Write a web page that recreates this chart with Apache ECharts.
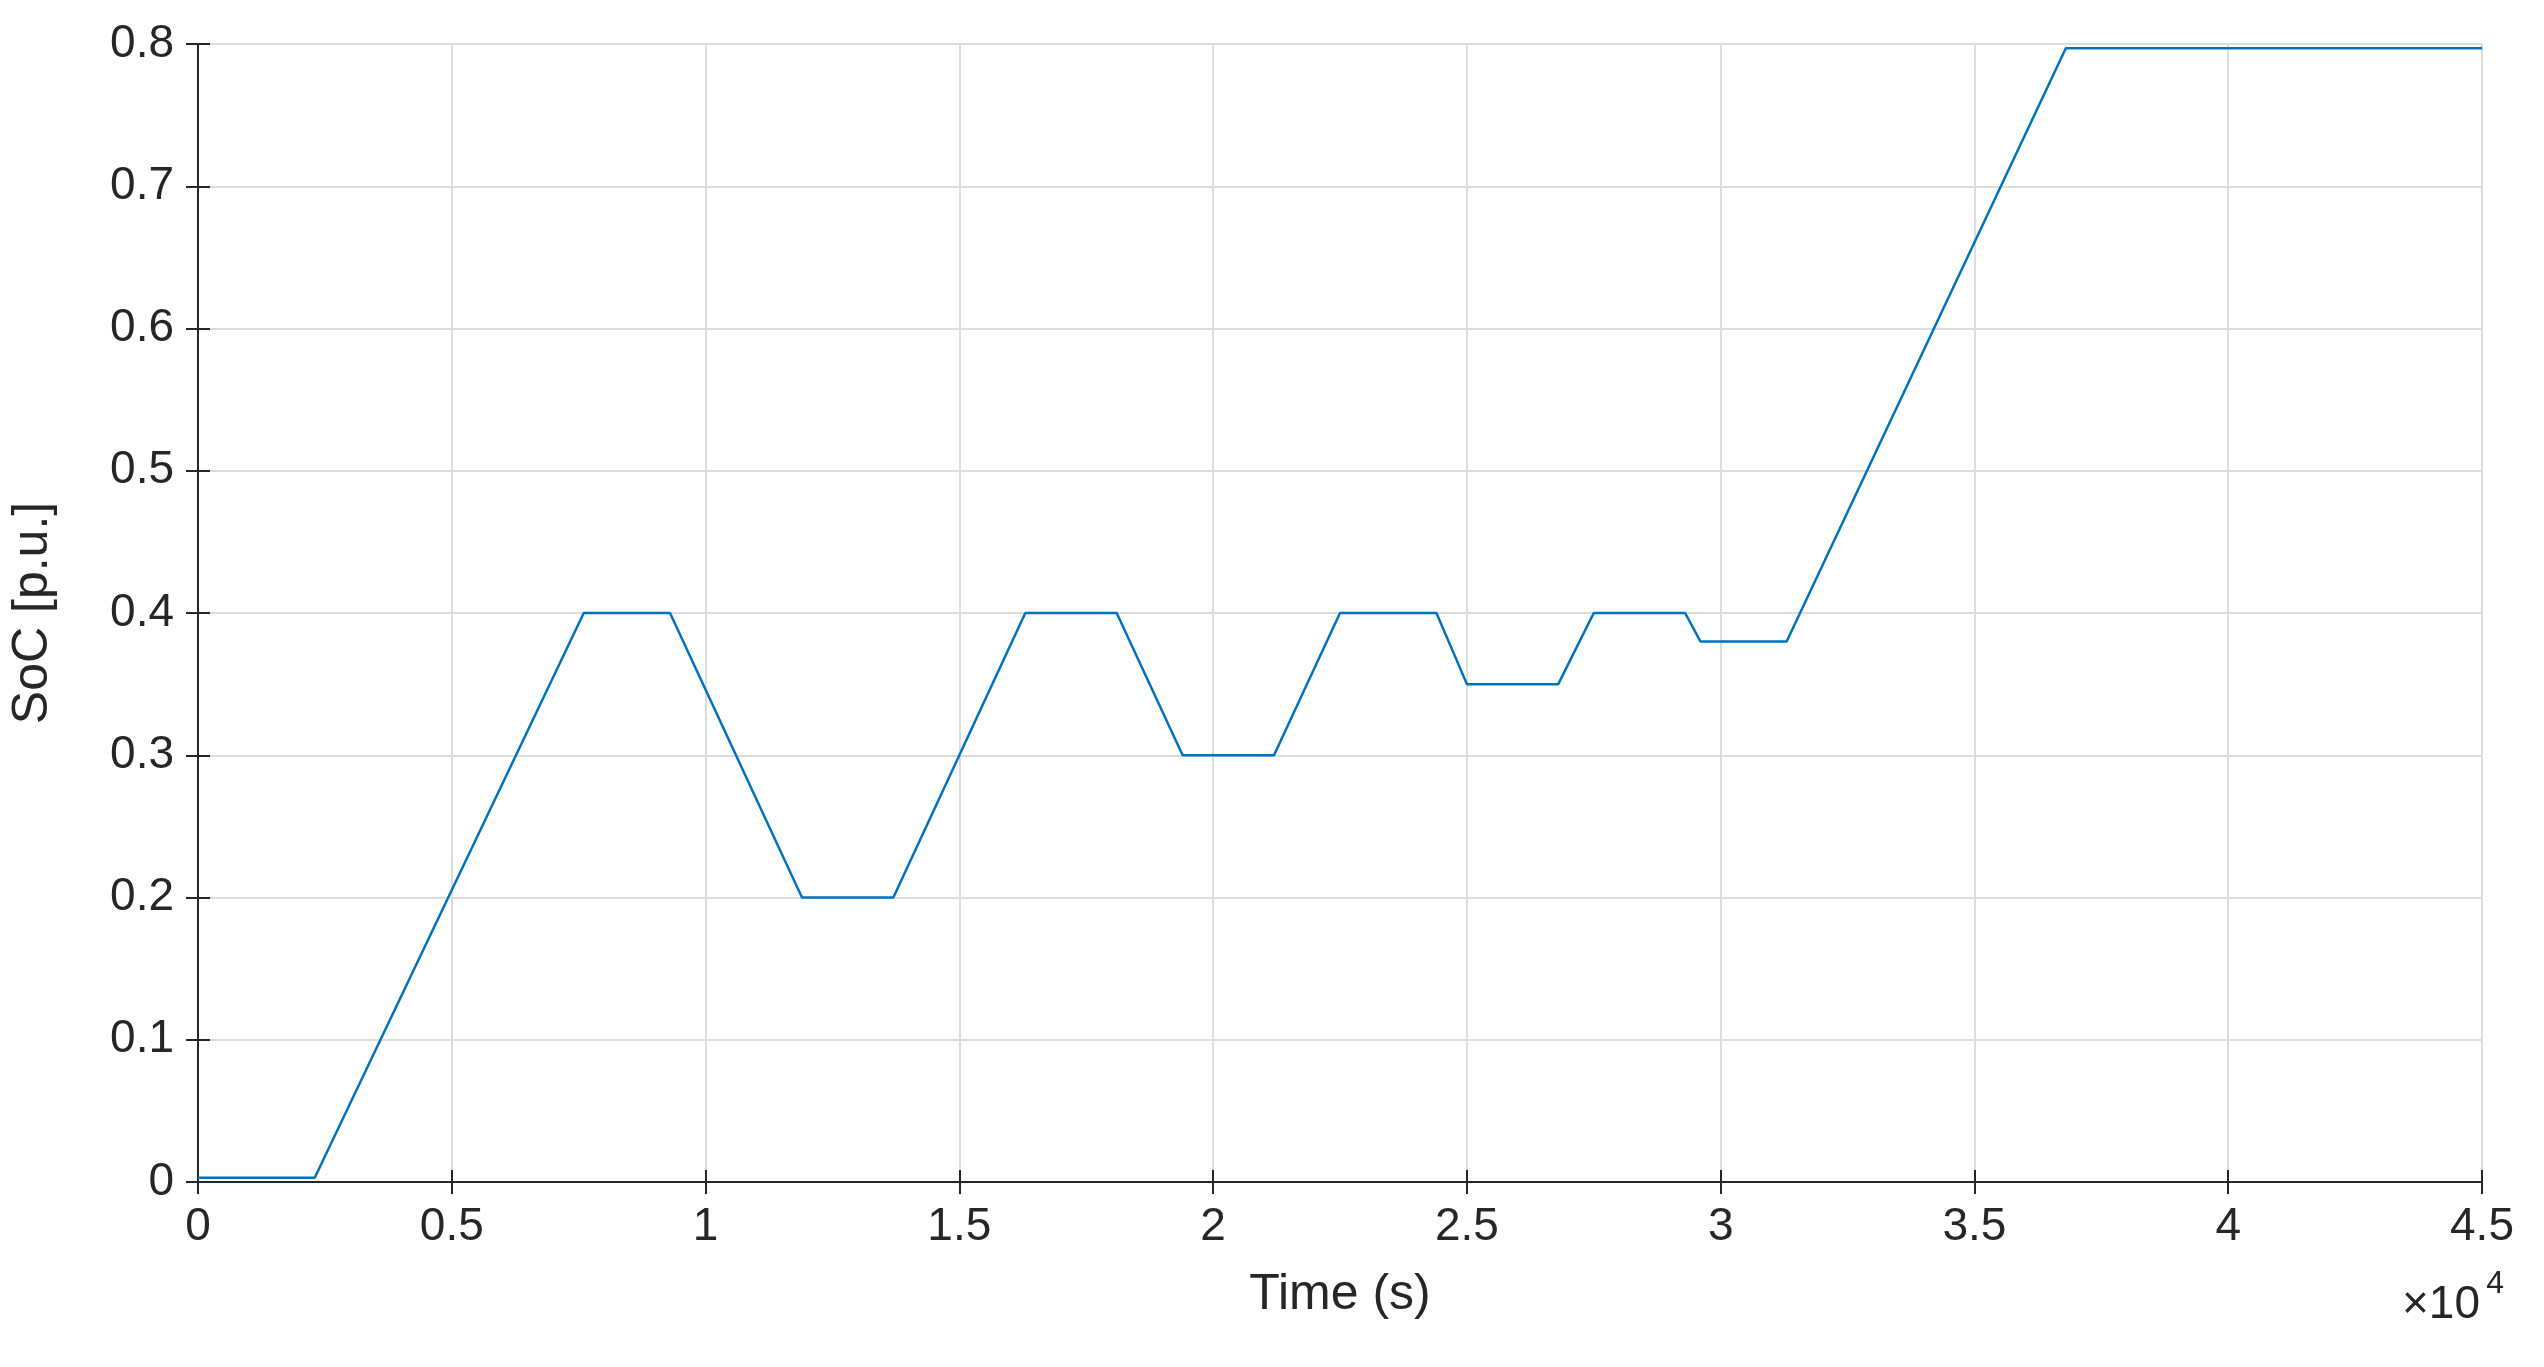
<!DOCTYPE html><html><head><meta charset="utf-8">
<script src="https://cdn.jsdelivr.net/npm/echarts@6/dist/echarts.min.js"></script>
<style>html,body{margin:0;background:#fff}#c{width:2544px;height:1367px}</style></head><body><div id="c"></div>
<script>
const timeS=[0,2300,7600,9300,11900,13700,16300,18100,19400,21200,22500,24400,25000,26800,27500,29300,29600,31300,36800,45000];
const soc=[0.003,0.003,0.4,0.4,0.2,0.2,0.4,0.4,0.3,0.3,0.4,0.4,0.35,0.35,0.4,0.4,0.38,0.38,0.797,0.797];
const xTickLabels=['0','0.5','1','1.5','2','2.5','3','3.5','4','4.5'];
const yTickLabels=['0','0.1','0.2','0.3','0.4','0.5','0.6','0.7','0.8'];
const ch=echarts.init(document.getElementById('c'));
const F='Liberation Sans, Arial, sans-serif';
const line={lineStyle:{color:'#262626',width:2}};
const tick={inside:true,length:12,lineStyle:{color:'#262626',width:2}};
ch.setOption({
 animation:false,
 grid:{left:195,right:62,top:44,bottom:185},
 xAxis:[{type:'value',min:0,max:45000,interval:5000,name:'Time (s)',nameLocation:'middle',nameGap:88,
  nameTextStyle:{fontSize:50,color:'#262626',fontFamily:F},
  axisLine:line,axisTick:tick,
  axisLabel:{fontSize:46,color:'#262626',fontFamily:F,margin:22,formatter:(v)=>xTickLabels[Math.round(v/5000)]},
  splitLine:{lineStyle:{color:'#dcdcdc',width:2}}},
  {type:'value',position:'top',min:0,max:45000,interval:5000,axisLine:{show:true,...line},axisTick:tick,axisLabel:{show:false},splitLine:{show:false}}],
 yAxis:[{type:'value',min:0,max:0.8,interval:0.1,name:'SoC [p.u.]',nameLocation:'middle',nameGap:140,
  nameTextStyle:{fontSize:50,color:'#262626',fontFamily:F},
  axisLine:line,axisTick:tick,
  axisLabel:{fontSize:46,color:'#262626',fontFamily:F,margin:24,formatter:(v)=>yTickLabels[Math.round(v*10)]},
  splitLine:{lineStyle:{color:'#dcdcdc',width:2}}},
  {type:'value',position:'right',min:0,max:0.8,interval:0.1,axisLine:{show:true,...line},axisTick:tick,axisLabel:{show:false},splitLine:{show:false}}],
 graphic:[{type:'text',right:64,top:1282,style:{text:'×10',fontSize:46,fill:'#262626',fontFamily:F}},
  {type:'text',right:40,top:1268,style:{text:'4',fontSize:32,fill:'#262626',fontFamily:F}}],
 series:[{type:'line',data:timeS.map((t,i)=>[t,soc[i]]),showSymbol:false,lineStyle:{color:'#0072BD',width:2.5}}]
});
</script></body></html>
